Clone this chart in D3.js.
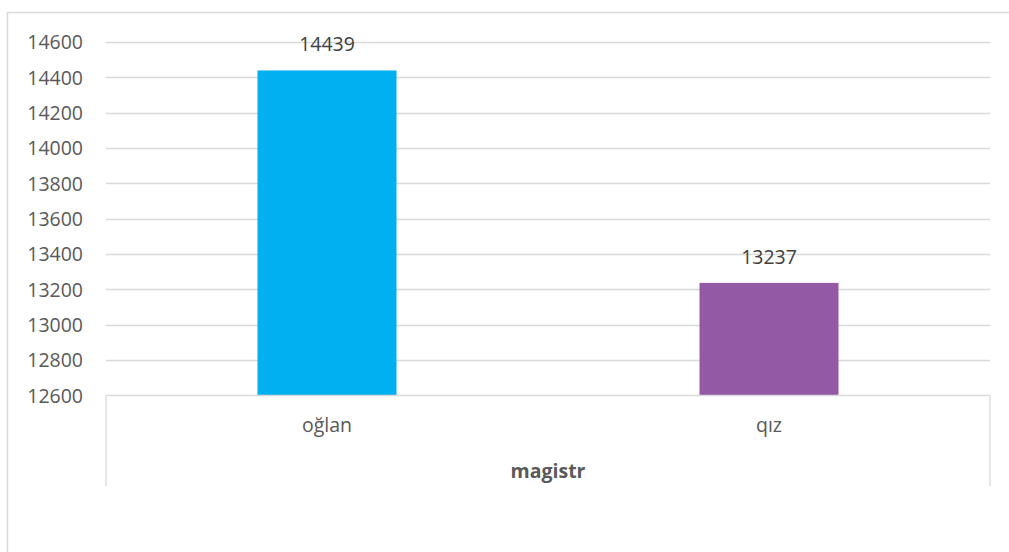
<!DOCTYPE html>
<html>
<head>
<meta charset="utf-8">
<script src="https://cdn.jsdelivr.net/npm/d3@7"></script>
<style>
  html, body { margin: 0; padding: 0; background: #fff; }
  svg { display: block; }
  text { font-family: "Open Sans", Calibri, sans-serif; }
</style>
</head>
<body>
<svg id="chart" width="1009" height="552"></svg>
<script>
const categories = ["oğlan", "qız"];
const values = [14439, 13237];
const colors = ["#00B0F0", "#9359A5"];
const yTicks = [12600, 12800, 13000, 13200, 13400, 13600, 13800, 14000, 14200, 14400, 14600];
const groupLabel = "magistr";

const svg = d3.select("#chart");
const W = 1009, H = 552;
const plot = { left: 106, right: 990, top: 42, bottom: 395.5 };

// chart border
svg.append("rect")
  .attr("x", 7.5).attr("y", 12.5)
  .attr("width", W + 20).attr("height", H + 20)
  .attr("fill", "none").attr("stroke", "#D9D9D9").attr("stroke-width", 1.5);

const y = d3.scaleLinear().domain([12600, 14600]).range([plot.bottom, plot.top]);
const x = d3.scaleBand().domain(categories).range([plot.left, plot.right]).paddingInner(0).paddingOuter(0);

// gridlines
svg.append("g").selectAll("line").data(yTicks.slice(1)).join("line")
  .attr("x1", plot.left).attr("x2", plot.right)
  .attr("y1", d => Math.round(y(d)) + 0.5).attr("y2", d => Math.round(y(d)) + 0.5)
  .attr("stroke", "#D9D9D9").attr("stroke-width", 1.3);

// y tick labels
const yAxis = d3.axisLeft(y).tickValues(yTicks).tickSize(0).tickPadding(0).tickFormat(d3.format("d"));
const ya = svg.append("g").attr("transform", `translate(${plot.left - 23},0)`).call(yAxis);
ya.select(".domain").remove();
ya.selectAll("text")
  .attr("font-family", "'Open Sans', Calibri, sans-serif")
  .attr("font-size", 19.5).attr("fill", "#595959").attr("dy", "0.35em");

// bars
const barW = 139;
svg.append("g").selectAll("rect").data(values).join("rect")
  .attr("x", (d, i) => x(categories[i]) + x.bandwidth() / 2 - barW / 2)
  .attr("width", barW)
  .attr("y", d => y(d))
  .attr("height", d => plot.bottom - y(d))
  .attr("fill", (d, i) => colors[i]);

// data labels
svg.append("g").selectAll("text").data(values).join("text")
  .attr("x", (d, i) => x(categories[i]) + x.bandwidth() / 2)
  .attr("y", d => y(d) - 19)
  .attr("text-anchor", "middle")
  .attr("font-size", 19.5).attr("fill", "#404040")
  .text(d => d);

// x axis line and outer tick lines
const xa = svg.append("g");
xa.append("line")
  .attr("x1", plot.left).attr("x2", plot.right)
  .attr("y1", plot.bottom).attr("y2", plot.bottom)
  .attr("stroke", "#D9D9D9").attr("stroke-width", 1.3);
[plot.left, plot.right].forEach(px => {
  xa.append("line")
    .attr("x1", px).attr("x2", px)
    .attr("y1", plot.bottom).attr("y2", 486)
    .attr("stroke", "#D9D9D9").attr("stroke-width", 1.3);
});

// category labels
xa.selectAll("text.cat").data(categories).join("text")
  .attr("class", "cat")
  .attr("x", d => x(d) + x.bandwidth() / 2)
  .attr("y", 432)
  .attr("text-anchor", "middle")
  .attr("font-size", 19.5).attr("fill", "#595959")
  .text(d => d);

// group label
xa.append("text")
  .attr("x", (plot.left + plot.right) / 2)
  .attr("y", 478)
  .attr("text-anchor", "middle")
  .attr("font-size", 19.5).attr("font-weight", "bold").attr("fill", "#595959")
  .text(groupLabel);
</script>
</body>
</html>
